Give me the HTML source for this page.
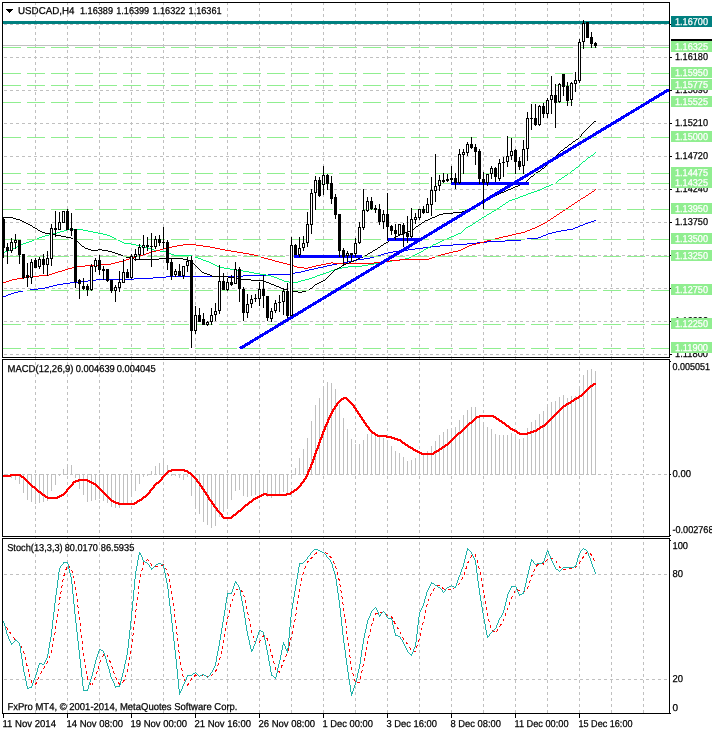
<!DOCTYPE html>
<html><head><meta charset="utf-8"><title>USDCAD,H4</title>
<style>html,body{margin:0;padding:0;background:#fff;overflow:hidden}svg{display:block}text{font-family:"Liberation Sans",Arial,sans-serif;fill:#000;stroke:#000;stroke-width:.25px;white-space:pre;text-rendering:geometricPrecision}.t{font-size:10px}.a{font-size:10px}.w{fill:#fff;stroke:#fff}</style></head><body>
<svg width="712" height="732" viewBox="0 0 712 732">
<rect x="0" y="0" width="712" height="732" fill="#fff"/>
<g shape-rendering="crispEdges" stroke="#c0c0c0" stroke-width="1" stroke-dasharray="3 3" fill="none">
<line x1="35.5" y1="2" x2="35.5" y2="713"/>
<line x1="67.5" y1="2" x2="67.5" y2="713"/>
<line x1="99.5" y1="2" x2="99.5" y2="713"/>
<line x1="131.5" y1="2" x2="131.5" y2="713"/>
<line x1="163.5" y1="2" x2="163.5" y2="713"/>
<line x1="195.5" y1="2" x2="195.5" y2="713"/>
<line x1="227.5" y1="2" x2="227.5" y2="713"/>
<line x1="259.5" y1="2" x2="259.5" y2="713"/>
<line x1="291.5" y1="2" x2="291.5" y2="713"/>
<line x1="323.5" y1="2" x2="323.5" y2="713"/>
<line x1="355.5" y1="2" x2="355.5" y2="713"/>
<line x1="387.5" y1="2" x2="387.5" y2="713"/>
<line x1="419.5" y1="2" x2="419.5" y2="713"/>
<line x1="451.5" y1="2" x2="451.5" y2="713"/>
<line x1="483.5" y1="2" x2="483.5" y2="713"/>
<line x1="515.5" y1="2" x2="515.5" y2="713"/>
<line x1="547.5" y1="2" x2="547.5" y2="713"/>
<line x1="579.5" y1="2" x2="579.5" y2="713"/>
<line x1="611.5" y1="2" x2="611.5" y2="713"/>
<line x1="643.5" y1="2" x2="643.5" y2="713"/>
<line x1="4" y1="24.5" x2="669" y2="24.5"/>
<line x1="4" y1="57.5" x2="669" y2="57.5"/>
<line x1="4" y1="90.5" x2="669" y2="90.5"/>
<line x1="4" y1="123.5" x2="669" y2="123.5"/>
<line x1="4" y1="156.5" x2="669" y2="156.5"/>
<line x1="4" y1="189.5" x2="669" y2="189.5"/>
<line x1="4" y1="222.5" x2="669" y2="222.5"/>
<line x1="4" y1="255.5" x2="669" y2="255.5"/>
<line x1="4" y1="288.5" x2="669" y2="288.5"/>
<line x1="4" y1="321.5" x2="669" y2="321.5"/>
<line x1="4" y1="354.5" x2="669" y2="354.5"/>
<line x1="4" y1="474.5" x2="669" y2="474.5"/>
<line x1="4" y1="574.5" x2="669" y2="574.5"/>
<line x1="4" y1="679.5" x2="669" y2="679.5"/>
</g>
<g shape-rendering="crispEdges">
<rect x="3" y="45" width="666" height="1" fill="#c0c0c0"/>
<rect x="3" y="21" width="666" height="3" fill="#008080"/>
</g>
<g shape-rendering="crispEdges">
<path d="M3 296h3v1h-3zM6 295h2v1h-2zM8 294h3v1h-3zM11 293h3v1h-3zM14 292h4v1h-4zM18 291h5v1h-5zM23 290h7v1h-7zM30 289h8v1h-8zM38 288h7v1h-7zM45 287h4v1h-4zM49 286h4v1h-4zM53 285h4v1h-4zM57 284h6v1h-6zM63 283h7v1h-7zM70 282h10v1h-10zM80 281h8v1h-8zM88 280h8v1h-8zM96 279h38v1h-38zM134 278h19v1h-19zM153 277h13v1h-13zM166 276h77v1h-77zM243 275h25v1h-25zM268 274h22v1h-22zM290 273h5v1h-5zM295 272h6v1h-6zM301 271h4v1h-4zM305 270h4v1h-4zM309 269h5v1h-5zM314 268h4v1h-4zM318 267h5v1h-5zM323 266h4v1h-4zM327 265h5v1h-5zM332 264h5v1h-5zM337 263h6v1h-6zM343 262h5v1h-5zM348 261h5v1h-5zM353 260h4v1h-4zM357 259h7v1h-7zM364 258h6v1h-6zM370 257h4v1h-4zM374 256h4v1h-4zM378 255h3v1h-3zM381 254h3v1h-3zM384 253h4v1h-4zM388 252h5v1h-5zM393 251h8v1h-8zM401 250h7v1h-7zM408 249h7v1h-7zM415 248h8v1h-8zM423 247h8v1h-8zM431 246h9v1h-9zM440 245h13v1h-13zM453 244h14v1h-14zM467 243h10v1h-10zM477 242h10v1h-10zM487 241h18v1h-18zM505 240h16v1h-16zM521 239h6v1h-6zM527 238h11v1h-11zM538 237h3v1h-3zM541 236h2v1h-2zM543 235h3v1h-3zM546 234h2v1h-2zM548 233h4v1h-4zM552 232h4v1h-4zM556 231h5v1h-5zM561 230h6v1h-6zM567 229h6v1h-6zM573 228h2v1h-2zM575 227h3v1h-3zM578 226h2v1h-2zM580 225h3v1h-3zM583 224h2v1h-2zM585 223h3v1h-3zM588 222h3v1h-3zM591 221h3v1h-3zM594 220h2v1h-2z" fill="#0000ff"/>
<path d="M3 252h2v1h-2zM5 251h3v1h-3zM8 250h2v1h-2zM10 249h2v1h-2zM12 248h3v1h-3zM15 247h2v1h-2zM17 246h1v1h-1zM18 245h3v1h-3zM21 244h2v1h-2zM23 243h3v1h-3zM26 242h3v1h-3zM29 241h3v1h-3zM32 240h2v1h-2zM34 239h3v1h-3zM37 238h2v1h-2zM39 237h3v1h-3zM42 236h3v1h-3zM45 235h4v1h-4zM49 234h4v1h-4zM53 233h4v1h-4zM57 232h3v1h-3zM60 231h4v1h-4zM64 230h3v1h-3zM67 229h16v1h-16zM83 230h5v1h-5zM88 231h5v1h-5zM93 232h5v1h-5zM98 233h5v1h-5zM103 234h4v1h-4zM107 235h3v1h-3zM110 236h2v1h-2zM112 237h2v1h-2zM114 238h2v1h-2zM116 239h2v1h-2zM118 240h2v1h-2zM120 241h2v1h-2zM122 242h2v1h-2zM124 243h7v1h-7zM131 244h5v1h-5zM136 245h5v1h-5zM141 246h4v1h-4zM145 247h3v1h-3zM148 248h3v1h-3zM151 249h3v1h-3zM154 250h6v1h-6zM160 251h7v1h-7zM167 252h2v1h-2zM169 253h2v1h-2zM171 254h3v1h-3zM174 255h18v1h-18zM192 256h3v1h-3zM195 257h3v1h-3zM198 258h3v1h-3zM201 259h2v1h-2zM203 260h3v1h-3zM206 261h3v1h-3zM209 262h2v1h-2zM211 263h2v1h-2zM213 264h2v1h-2zM215 265h2v1h-2zM217 266h3v1h-3zM220 267h4v1h-4zM224 268h6v1h-6zM230 269h7v1h-7zM237 270h6v1h-6zM243 271h6v1h-6zM249 272h5v1h-5zM254 273h6v1h-6zM260 274h6v1h-6zM266 275h5v1h-5zM271 276h3v1h-3zM274 277h3v1h-3zM277 278h2v1h-2zM279 279h3v1h-3zM282 280h2v1h-2zM284 281h5v1h-5zM289 282h9v1h-9zM298 281h3v1h-3zM301 280h4v1h-4zM305 279h4v1h-4zM309 278h3v1h-3zM312 277h3v1h-3zM315 276h2v1h-2zM317 275h3v1h-3zM320 274h3v1h-3zM323 273h3v1h-3zM326 272h3v1h-3zM329 271h2v1h-2zM331 270h3v1h-3zM334 269h4v1h-4zM338 268h4v1h-4zM342 267h6v1h-6zM348 266h14v1h-14zM362 265h6v1h-6zM368 264h6v1h-6zM374 263h5v1h-5zM379 262h5v1h-5zM384 261h8v1h-8zM392 260h7v1h-7zM399 259h6v1h-6zM405 258h4v1h-4zM409 257h2v1h-2zM411 256h2v1h-2zM413 255h2v1h-2zM415 254h2v1h-2zM417 253h2v1h-2zM419 252h2v1h-2zM421 251h2v1h-2zM423 250h1v1h-1zM424 249h2v1h-2zM426 248h2v1h-2zM428 247h2v1h-2zM430 246h2v1h-2zM432 245h1v1h-1zM433 244h3v1h-3zM436 243h2v1h-2zM438 242h2v1h-2zM440 241h2v1h-2zM442 240h2v1h-2zM444 239h3v1h-3zM447 238h2v1h-2zM449 237h2v1h-2zM451 236h3v1h-3zM454 235h2v1h-2zM456 234h2v1h-2zM458 233h3v1h-3zM461 232h1v1h-1zM462 231h1v1h-1zM463 230h1v1h-1zM464 229h1v1h-1zM465 228h1v1h-1zM466 227h2v1h-2zM468 226h2v1h-2zM470 225h2v1h-2zM472 224h1v1h-1zM473 223h2v1h-2zM475 222h1v1h-1zM476 221h2v1h-2zM478 220h1v1h-1zM479 219h2v1h-2zM481 218h1v1h-1zM482 217h2v1h-2zM484 216h2v1h-2zM486 215h1v1h-1zM487 214h2v1h-2zM489 213h2v1h-2zM491 212h1v1h-1zM492 211h2v1h-2zM494 210h2v1h-2zM496 209h1v1h-1zM497 208h2v1h-2zM499 207h1v1h-1zM500 206h2v1h-2zM502 205h1v1h-1zM503 204h2v1h-2zM505 203h1v1h-1zM506 202h2v1h-2zM508 201h1v1h-1zM509 200h3v1h-3zM512 199h3v1h-3zM515 198h3v1h-3zM518 197h2v1h-2zM520 196h3v1h-3zM523 195h3v1h-3zM526 194h2v1h-2zM528 193h3v1h-3zM531 192h3v1h-3zM534 191h3v1h-3zM537 190h3v1h-3zM540 189h2v1h-2zM542 188h2v1h-2zM544 187h2v1h-2zM546 186h3v1h-3zM549 185h2v1h-2zM551 184h2v1h-2zM553 183h3v1h-3zM556 182h1v1h-1zM557 181h1v1h-1zM558 180h1v1h-1zM559 179h2v1h-2zM561 178h1v1h-1zM562 177h2v1h-2zM564 176h1v1h-1zM565 175h2v1h-2zM567 174h1v1h-1zM568 173h2v1h-2zM570 172h1v1h-1zM571 171h1v1h-1zM572 170h2v1h-2zM574 169h1v1h-1zM575 168h1v1h-1zM576 167h2v1h-2zM578 166h1v1h-1zM579 165h1v1h-1zM580 164h1v1h-1zM581 163h1v1h-1zM582 162h1v1h-1zM583 161h2v1h-2zM585 160h1v1h-1zM586 159h1v1h-1zM587 158h1v1h-1zM588 157h2v1h-2zM590 156h1v1h-1zM591 155h2v1h-2zM593 154h1v1h-1zM594 153h1v1h-1zM595 152h1v1h-1z" fill="#00f578"/>
<path d="M3 282h3v1h-3zM6 281h3v1h-3zM9 280h3v1h-3zM12 279h5v1h-5zM17 278h6v1h-6zM23 277h6v1h-6zM29 276h10v1h-10zM39 275h10v1h-10zM49 274h3v1h-3zM52 273h3v1h-3zM55 272h3v1h-3zM58 271h4v1h-4zM62 270h3v1h-3zM65 269h3v1h-3zM68 268h4v1h-4zM72 267h5v1h-5zM77 266h8v1h-8zM85 265h14v1h-14zM99 264h12v1h-12zM111 263h4v1h-4zM115 262h4v1h-4zM119 261h4v1h-4zM123 260h3v1h-3zM126 259h3v1h-3zM129 258h4v1h-4zM133 257h3v1h-3zM136 256h3v1h-3zM139 255h4v1h-4zM143 254h3v1h-3zM146 253h3v1h-3zM149 252h3v1h-3zM152 251h4v1h-4zM156 250h4v1h-4zM160 249h3v1h-3zM163 248h4v1h-4zM167 247h5v1h-5zM172 246h5v1h-5zM177 245h6v1h-6zM183 244h13v1h-13zM196 245h7v1h-7zM203 246h7v1h-7zM210 247h5v1h-5zM215 248h5v1h-5zM220 249h5v1h-5zM225 250h6v1h-6zM231 251h6v1h-6zM237 252h6v1h-6zM243 253h6v1h-6zM249 254h5v1h-5zM254 255h4v1h-4zM258 256h3v1h-3zM261 257h3v1h-3zM264 258h4v1h-4zM268 259h4v1h-4zM272 260h3v1h-3zM275 261h4v1h-4zM279 262h4v1h-4zM283 263h4v1h-4zM287 264h3v1h-3zM290 265h4v1h-4zM294 266h3v1h-3zM297 267h7v1h-7zM304 268h4v1h-4zM308 267h4v1h-4zM312 266h4v1h-4zM316 265h5v1h-5zM321 264h5v1h-5zM326 263h5v1h-5zM331 262h2v1h-2zM333 263h41v1h-41zM374 262h8v1h-8zM382 261h8v1h-8zM390 260h10v1h-10zM400 259h29v1h-29zM429 258h3v1h-3zM432 257h3v1h-3zM435 256h3v1h-3zM438 255h3v1h-3zM441 254h4v1h-4zM445 253h4v1h-4zM449 252h4v1h-4zM453 251h5v1h-5zM458 250h3v1h-3zM461 249h2v1h-2zM463 248h2v1h-2zM465 247h2v1h-2zM467 246h2v1h-2zM469 245h3v1h-3zM472 244h4v1h-4zM476 243h4v1h-4zM480 242h4v1h-4zM484 241h3v1h-3zM487 240h4v1h-4zM491 239h4v1h-4zM495 238h4v1h-4zM499 237h4v1h-4zM503 236h5v1h-5zM508 235h4v1h-4zM512 234h4v1h-4zM516 233h5v1h-5zM521 232h4v1h-4zM525 231h2v1h-2zM527 230h3v1h-3zM530 229h2v1h-2zM532 228h3v1h-3zM535 227h2v1h-2zM537 226h2v1h-2zM539 225h2v1h-2zM541 224h2v1h-2zM543 223h2v1h-2zM545 222h2v1h-2zM547 221h1v1h-1zM548 220h2v1h-2zM550 219h1v1h-1zM551 218h2v1h-2zM553 217h1v1h-1zM554 216h2v1h-2zM556 215h1v1h-1zM557 214h2v1h-2zM559 213h1v1h-1zM560 212h2v1h-2zM562 211h1v1h-1zM563 210h2v1h-2zM565 209h1v1h-1zM566 208h2v1h-2zM568 207h1v1h-1zM569 206h2v1h-2zM571 205h1v1h-1zM572 204h2v1h-2zM574 203h1v1h-1zM575 202h2v1h-2zM577 201h1v1h-1zM578 200h2v1h-2zM580 199h1v1h-1zM581 198h2v1h-2zM583 197h2v1h-2zM585 196h1v1h-1zM586 195h2v1h-2zM588 194h1v1h-1zM589 193h2v1h-2zM591 192h1v1h-1zM592 191h2v1h-2zM594 190h1v1h-1zM595 189h1v1h-1z" fill="#ff0000"/>
<path d="M3 217h10v1h-10zM13 218h3v1h-3zM16 219h4v1h-4zM20 220h2v1h-2zM22 221h2v1h-2zM24 222h2v1h-2zM26 223h2v1h-2zM28 224h2v1h-2zM30 225h2v1h-2zM32 226h1v1h-1zM33 227h2v1h-2zM35 228h2v1h-2zM37 229h1v1h-1zM38 230h2v1h-2zM40 231h2v1h-2zM42 232h3v1h-3zM45 233h5v1h-5zM50 234h6v1h-6zM56 235h5v1h-5zM61 236h5v1h-5zM66 237h5v1h-5zM71 238h2v1h-2zM73 239h2v1h-2zM75 240h2v1h-2zM77 241h1v1h-1zM78 242h1v1h-1zM79 243h1v1h-1zM80 244h1v1h-1zM81 245h1v1h-1zM82 246h2v1h-2zM84 247h1v1h-1zM85 248h3v1h-3zM88 249h3v1h-3zM91 250h7v1h-7zM98 249h4v1h-4zM102 250h6v1h-6zM108 251h4v1h-4zM112 252h3v1h-3zM115 253h3v1h-3zM118 254h3v1h-3zM121 255h2v1h-2zM123 256h3v1h-3zM126 257h4v1h-4zM130 258h4v1h-4zM134 259h25v1h-25zM159 258h24v1h-24zM183 259h5v1h-5zM188 260h2v1h-2zM190 261h2v1h-2zM192 262h1v1h-1zM193 263h1v1h-1zM194 264h1v1h-1zM195 265h1v1h-1zM196 266h1v1h-1zM197 267h1v1h-1zM198 268h1v1h-1zM199 269h1v1h-1zM200 270h1v1h-1zM201 271h1v1h-1zM202 272h2v1h-2zM204 273h3v1h-3zM207 274h3v1h-3zM210 275h2v1h-2zM212 276h16v1h-16zM228 277h6v1h-6zM234 278h7v1h-7zM241 279h10v1h-10zM251 280h12v1h-12zM263 281h3v1h-3zM266 282h3v1h-3zM269 283h2v1h-2zM271 284h3v1h-3zM274 285h2v1h-2zM276 286h3v1h-3zM279 287h2v1h-2zM281 288h3v1h-3zM284 289h4v1h-4zM288 290h4v1h-4zM292 291h6v1h-6zM298 292h4v1h-4zM302 291h4v1h-4zM306 290h3v1h-3zM309 289h1v1h-1zM310 288h2v1h-2zM312 287h1v1h-1zM313 286h1v1h-1zM314 285h1v1h-1zM315 284h2v1h-2zM317 283h2v1h-2zM319 282h2v1h-2zM321 281h2v1h-2zM323 280h2v1h-2zM325 279h1v1h-1zM326 278h1v1h-1zM327 277h1v1h-1zM328 276h1v1h-1zM329 275h1v1h-1zM330 274h1v1h-1zM331 273h1v1h-1zM332 272h1v1h-1zM333 271h1v1h-1zM334 270h1v1h-1zM335 269h2v1h-2zM337 268h2v1h-2zM339 267h2v1h-2zM341 266h1v1h-1zM342 265h2v1h-2zM344 264h2v1h-2zM346 263h3v1h-3zM349 262h2v1h-2zM351 261h3v1h-3zM354 260h2v1h-2zM356 259h2v1h-2zM358 258h2v1h-2zM360 257h3v1h-3zM363 256h2v1h-2zM365 255h2v1h-2zM367 254h1v1h-1zM368 253h2v1h-2zM370 252h2v1h-2zM372 251h1v1h-1zM373 250h2v1h-2zM375 249h2v1h-2zM377 248h1v1h-1zM378 247h2v1h-2zM380 246h1v1h-1zM381 245h2v1h-2zM383 244h1v1h-1zM384 243h2v1h-2zM386 242h2v1h-2zM388 241h1v1h-1zM389 240h2v1h-2zM391 239h2v1h-2zM393 238h1v1h-1zM394 237h2v1h-2zM396 236h2v1h-2zM398 235h2v1h-2zM400 234h3v1h-3zM403 233h2v1h-2zM405 232h2v1h-2zM407 231h3v1h-3zM410 230h2v1h-2zM412 229h2v1h-2zM414 228h1v1h-1zM415 227h1v1h-1zM416 226h2v1h-2zM418 225h1v1h-1zM419 224h2v1h-2zM421 223h1v1h-1zM422 222h2v1h-2zM424 221h1v1h-1zM425 220h3v1h-3zM428 219h2v1h-2zM430 218h2v1h-2zM432 217h3v1h-3zM435 216h2v1h-2zM437 215h2v1h-2zM439 214h4v1h-4zM443 213h10v1h-10zM453 212h9v1h-9zM462 211h3v1h-3zM465 210h2v1h-2zM467 209h2v1h-2zM469 208h2v1h-2zM471 207h2v1h-2zM473 206h2v1h-2zM475 205h2v1h-2zM477 204h2v1h-2zM479 203h2v1h-2zM481 202h2v1h-2zM483 201h1v1h-1zM484 200h2v1h-2zM486 199h2v1h-2zM488 198h2v1h-2zM490 197h2v1h-2zM492 196h2v1h-2zM494 195h3v1h-3zM497 194h2v1h-2zM499 193h2v1h-2zM501 192h3v1h-3zM504 191h2v1h-2zM506 190h2v1h-2zM508 189h3v1h-3zM511 188h2v1h-2zM513 187h2v1h-2zM515 186h3v1h-3zM518 185h2v1h-2zM520 184h2v1h-2zM522 183h2v1h-2zM524 182h2v1h-2zM526 181h1v1h-1zM527 180h1v1h-1zM528 179h1v1h-1zM529 178h1v1h-1zM530 177h1v1h-1zM531 176h2v1h-2zM533 175h1v1h-1zM534 174h1v1h-1zM535 173h1v1h-1zM536 172h2v1h-2zM538 171h2v1h-2zM540 170h1v1h-1zM541 169h1v1h-1zM542 168h2v1h-2zM544 167h1v1h-1zM545 166h1v1h-1zM546 165h1v1h-1zM547 164h1v1h-1zM548 163h1v1h-1zM549 162h1v1h-1zM550 161h1v1h-1zM551 160h1v1h-1zM552 159h1v1h-1zM553 158h1v1h-1zM554 157h1v1h-1zM555 156h1v1h-1zM556 155h1v1h-1zM557 154h1v1h-1zM558 153h1v1h-1zM559 152h1v1h-1zM560 151h1v1h-1zM561 150h2v1h-2zM563 149h1v1h-1zM564 148h1v1h-1zM565 147h2v1h-2zM567 146h1v1h-1zM568 145h1v1h-1zM569 144h2v1h-2zM571 143h1v1h-1zM572 142h1v1h-1zM573 141h2v1h-2zM575 140h1v1h-1zM576 139h2v1h-2zM578 138h1v1h-1zM579 137h1v1h-1zM580 136h1v1h-1zM581 134h1v2h-1zM582 133h1v1h-1zM583 132h1v1h-1zM584 131h1v1h-1zM585 130h1v1h-1zM586 129h1v1h-1zM587 128h1v1h-1zM588 127h1v1h-1zM589 126h1v1h-1zM590 125h1v1h-1zM591 124h1v1h-1zM592 123h1v1h-1zM593 122h1v1h-1zM594 121h2v1h-2z" fill="#000000"/>
<rect x="3" y="47" width="666" height="1" fill="#fff"/>
<rect x="3" y="73" width="666" height="1" fill="#fff"/>
<rect x="3" y="85" width="666" height="1" fill="#fff"/>
<rect x="3" y="102" width="666" height="1" fill="#fff"/>
<rect x="3" y="137" width="666" height="1" fill="#fff"/>
<rect x="3" y="173" width="666" height="1" fill="#fff"/>
<rect x="3" y="183" width="666" height="1" fill="#fff"/>
<rect x="3" y="209" width="666" height="1" fill="#fff"/>
<rect x="3" y="239" width="666" height="1" fill="#fff"/>
<rect x="3" y="256" width="666" height="1" fill="#fff"/>
<rect x="3" y="290" width="666" height="1" fill="#fff"/>
<rect x="3" y="324" width="666" height="1" fill="#fff"/>
<rect x="3" y="348" width="666" height="1" fill="#fff"/>
<g stroke="#90ee90" stroke-width="1" stroke-dasharray="18 6">
<line x1="3" y1="47.5" x2="669" y2="47.5"/>
<line x1="3" y1="73.5" x2="669" y2="73.5"/>
<line x1="3" y1="85.5" x2="669" y2="85.5"/>
<line x1="3" y1="102.5" x2="669" y2="102.5"/>
<line x1="3" y1="137.5" x2="669" y2="137.5"/>
<line x1="3" y1="173.5" x2="669" y2="173.5"/>
<line x1="3" y1="183.5" x2="669" y2="183.5"/>
<line x1="3" y1="209.5" x2="669" y2="209.5"/>
<line x1="3" y1="239.5" x2="669" y2="239.5"/>
<line x1="3" y1="256.5" x2="669" y2="256.5"/>
<line x1="3" y1="290.5" x2="669" y2="290.5"/>
<line x1="3" y1="324.5" x2="669" y2="324.5"/>
<line x1="3" y1="348.5" x2="669" y2="348.5"/>
</g>
<line x1="240" y1="348.5" x2="669" y2="89.5" stroke="#0000ff" stroke-width="3"/>
<rect x="294" y="255" width="68" height="3" fill="#0000ff"/>
<rect x="387" y="238" width="32" height="3" fill="#0000ff"/>
<rect x="451" y="182" width="78" height="3" fill="#0000ff"/>
</g>
<g shape-rendering="crispEdges" fill="#000">
<rect x="3" y="218" width="1" height="40"/>
<rect x="2" y="219" width="3" height="29"/>
<rect x="7" y="243" width="1" height="21"/>
<rect x="6" y="247" width="3" height="4"/>
<rect x="11" y="238" width="1" height="15"/>
<rect x="10" y="242" width="3" height="9"/>
<rect x="11" y="243" width="1" height="7" fill="#fff"/>
<rect x="15" y="234" width="1" height="15"/>
<rect x="14" y="240" width="3" height="3"/>
<rect x="15" y="241" width="1" height="1" fill="#fff"/>
<rect x="19" y="240" width="1" height="24"/>
<rect x="18" y="240" width="3" height="15"/>
<rect x="23" y="254" width="1" height="25"/>
<rect x="22" y="254" width="3" height="24"/>
<rect x="27" y="263" width="1" height="24"/>
<rect x="26" y="275" width="3" height="3"/>
<rect x="31" y="259" width="1" height="25"/>
<rect x="30" y="262" width="3" height="16"/>
<rect x="31" y="263" width="1" height="14" fill="#fff"/>
<rect x="35" y="258" width="1" height="10"/>
<rect x="34" y="260" width="3" height="8"/>
<rect x="39" y="257" width="1" height="12"/>
<rect x="38" y="259" width="3" height="8"/>
<rect x="39" y="260" width="1" height="6" fill="#fff"/>
<rect x="43" y="254" width="1" height="20"/>
<rect x="42" y="259" width="3" height="6"/>
<rect x="47" y="251" width="1" height="25"/>
<rect x="46" y="258" width="3" height="7"/>
<rect x="47" y="259" width="1" height="5" fill="#fff"/>
<rect x="51" y="224" width="1" height="42"/>
<rect x="50" y="228" width="3" height="31"/>
<rect x="51" y="229" width="1" height="29" fill="#fff"/>
<rect x="55" y="211" width="1" height="26"/>
<rect x="54" y="228" width="3" height="2"/>
<rect x="59" y="212" width="1" height="18"/>
<rect x="58" y="222" width="3" height="8"/>
<rect x="59" y="223" width="1" height="6" fill="#fff"/>
<rect x="63" y="211" width="1" height="12"/>
<rect x="62" y="211" width="3" height="12"/>
<rect x="63" y="212" width="1" height="10" fill="#fff"/>
<rect x="67" y="209" width="1" height="21"/>
<rect x="66" y="211" width="3" height="19"/>
<rect x="71" y="213" width="1" height="23"/>
<rect x="70" y="228" width="3" height="3"/>
<rect x="75" y="229" width="1" height="59"/>
<rect x="74" y="229" width="3" height="53"/>
<rect x="79" y="279" width="1" height="20"/>
<rect x="78" y="280" width="3" height="4"/>
<rect x="83" y="278" width="1" height="12"/>
<rect x="82" y="286" width="3" height="3"/>
<rect x="87" y="284" width="1" height="12"/>
<rect x="86" y="286" width="3" height="4"/>
<rect x="91" y="264" width="1" height="27"/>
<rect x="90" y="266" width="3" height="24"/>
<rect x="91" y="267" width="1" height="22" fill="#fff"/>
<rect x="95" y="258" width="1" height="14"/>
<rect x="94" y="260" width="3" height="7"/>
<rect x="95" y="261" width="1" height="5" fill="#fff"/>
<rect x="99" y="255" width="1" height="20"/>
<rect x="98" y="260" width="3" height="10"/>
<rect x="103" y="266" width="1" height="14"/>
<rect x="102" y="269" width="3" height="2"/>
<rect x="107" y="269" width="1" height="13"/>
<rect x="106" y="269" width="3" height="12"/>
<rect x="111" y="280" width="1" height="13"/>
<rect x="110" y="280" width="3" height="11"/>
<rect x="115" y="285" width="1" height="17"/>
<rect x="114" y="287" width="3" height="4"/>
<rect x="115" y="288" width="1" height="2" fill="#fff"/>
<rect x="119" y="271" width="1" height="21"/>
<rect x="118" y="282" width="3" height="6"/>
<rect x="119" y="283" width="1" height="4" fill="#fff"/>
<rect x="123" y="259" width="1" height="24"/>
<rect x="122" y="272" width="3" height="11"/>
<rect x="123" y="273" width="1" height="9" fill="#fff"/>
<rect x="127" y="269" width="1" height="9"/>
<rect x="126" y="272" width="3" height="6"/>
<rect x="131" y="254" width="1" height="25"/>
<rect x="130" y="256" width="3" height="22"/>
<rect x="131" y="257" width="1" height="20" fill="#fff"/>
<rect x="135" y="249" width="1" height="12"/>
<rect x="134" y="254" width="3" height="3"/>
<rect x="135" y="255" width="1" height="1" fill="#fff"/>
<rect x="139" y="244" width="1" height="16"/>
<rect x="138" y="247" width="3" height="8"/>
<rect x="139" y="248" width="1" height="6" fill="#fff"/>
<rect x="143" y="235" width="1" height="20"/>
<rect x="142" y="245" width="3" height="3"/>
<rect x="143" y="246" width="1" height="1" fill="#fff"/>
<rect x="147" y="237" width="1" height="14"/>
<rect x="146" y="245" width="3" height="2"/>
<rect x="151" y="233" width="1" height="34"/>
<rect x="150" y="246" width="3" height="1"/>
<rect x="155" y="236" width="1" height="13"/>
<rect x="154" y="239" width="3" height="8"/>
<rect x="155" y="240" width="1" height="6" fill="#fff"/>
<rect x="159" y="235" width="1" height="11"/>
<rect x="158" y="239" width="3" height="4"/>
<rect x="163" y="227" width="1" height="22"/>
<rect x="162" y="242" width="3" height="1"/>
<rect x="167" y="240" width="1" height="30"/>
<rect x="166" y="242" width="3" height="21"/>
<rect x="171" y="258" width="1" height="22"/>
<rect x="170" y="262" width="3" height="14"/>
<rect x="175" y="269" width="1" height="8"/>
<rect x="174" y="271" width="3" height="4"/>
<rect x="175" y="272" width="1" height="2" fill="#fff"/>
<rect x="179" y="264" width="1" height="12"/>
<rect x="178" y="271" width="3" height="5"/>
<rect x="183" y="266" width="1" height="13"/>
<rect x="182" y="266" width="3" height="10"/>
<rect x="183" y="267" width="1" height="8" fill="#fff"/>
<rect x="187" y="257" width="1" height="15"/>
<rect x="186" y="261" width="3" height="5"/>
<rect x="187" y="262" width="1" height="3" fill="#fff"/>
<rect x="191" y="256" width="1" height="92"/>
<rect x="190" y="260" width="3" height="71"/>
<rect x="195" y="306" width="1" height="28"/>
<rect x="194" y="315" width="3" height="16"/>
<rect x="195" y="316" width="1" height="14" fill="#fff"/>
<rect x="199" y="308" width="1" height="14"/>
<rect x="198" y="315" width="3" height="7"/>
<rect x="203" y="313" width="1" height="12"/>
<rect x="202" y="319" width="3" height="6"/>
<rect x="207" y="321" width="1" height="5"/>
<rect x="206" y="322" width="3" height="3"/>
<rect x="207" y="323" width="1" height="1" fill="#fff"/>
<rect x="211" y="308" width="1" height="17"/>
<rect x="210" y="315" width="3" height="7"/>
<rect x="211" y="316" width="1" height="5" fill="#fff"/>
<rect x="215" y="303" width="1" height="18"/>
<rect x="214" y="311" width="3" height="4"/>
<rect x="215" y="312" width="1" height="2" fill="#fff"/>
<rect x="219" y="265" width="1" height="49"/>
<rect x="218" y="281" width="3" height="30"/>
<rect x="219" y="282" width="1" height="28" fill="#fff"/>
<rect x="223" y="273" width="1" height="17"/>
<rect x="222" y="281" width="3" height="9"/>
<rect x="227" y="278" width="1" height="13"/>
<rect x="226" y="282" width="3" height="8"/>
<rect x="227" y="283" width="1" height="6" fill="#fff"/>
<rect x="231" y="275" width="1" height="11"/>
<rect x="230" y="282" width="3" height="3"/>
<rect x="235" y="262" width="1" height="22"/>
<rect x="234" y="269" width="3" height="15"/>
<rect x="235" y="270" width="1" height="13" fill="#fff"/>
<rect x="239" y="267" width="1" height="35"/>
<rect x="238" y="269" width="3" height="20"/>
<rect x="243" y="287" width="1" height="34"/>
<rect x="242" y="289" width="3" height="24"/>
<rect x="247" y="294" width="1" height="24"/>
<rect x="246" y="304" width="3" height="9"/>
<rect x="247" y="305" width="1" height="7" fill="#fff"/>
<rect x="251" y="295" width="1" height="13"/>
<rect x="250" y="299" width="3" height="5"/>
<rect x="251" y="300" width="1" height="3" fill="#fff"/>
<rect x="255" y="294" width="1" height="8"/>
<rect x="254" y="298" width="3" height="1"/>
<rect x="259" y="282" width="1" height="24"/>
<rect x="258" y="289" width="3" height="10"/>
<rect x="259" y="290" width="1" height="8" fill="#fff"/>
<rect x="263" y="275" width="1" height="33"/>
<rect x="262" y="289" width="3" height="7"/>
<rect x="267" y="296" width="1" height="25"/>
<rect x="266" y="296" width="3" height="22"/>
<rect x="271" y="308" width="1" height="14"/>
<rect x="270" y="311" width="3" height="8"/>
<rect x="271" y="312" width="1" height="6" fill="#fff"/>
<rect x="275" y="300" width="1" height="13"/>
<rect x="274" y="303" width="3" height="8"/>
<rect x="275" y="304" width="1" height="6" fill="#fff"/>
<rect x="279" y="295" width="1" height="17"/>
<rect x="278" y="302" width="3" height="1"/>
<rect x="283" y="288" width="1" height="27"/>
<rect x="282" y="291" width="3" height="11"/>
<rect x="283" y="292" width="1" height="9" fill="#fff"/>
<rect x="287" y="283" width="1" height="35"/>
<rect x="286" y="291" width="3" height="25"/>
<rect x="291" y="237" width="1" height="79"/>
<rect x="290" y="245" width="3" height="71"/>
<rect x="291" y="246" width="1" height="69" fill="#fff"/>
<rect x="295" y="244" width="1" height="11"/>
<rect x="294" y="245" width="3" height="10"/>
<rect x="299" y="237" width="1" height="20"/>
<rect x="298" y="248" width="3" height="7"/>
<rect x="299" y="249" width="1" height="5" fill="#fff"/>
<rect x="303" y="236" width="1" height="15"/>
<rect x="302" y="243" width="3" height="5"/>
<rect x="303" y="244" width="1" height="3" fill="#fff"/>
<rect x="307" y="212" width="1" height="35"/>
<rect x="306" y="224" width="3" height="19"/>
<rect x="307" y="225" width="1" height="17" fill="#fff"/>
<rect x="311" y="189" width="1" height="45"/>
<rect x="310" y="193" width="3" height="32"/>
<rect x="311" y="194" width="1" height="30" fill="#fff"/>
<rect x="315" y="176" width="1" height="34"/>
<rect x="314" y="180" width="3" height="13"/>
<rect x="315" y="181" width="1" height="11" fill="#fff"/>
<rect x="319" y="177" width="1" height="20"/>
<rect x="318" y="180" width="3" height="16"/>
<rect x="323" y="166" width="1" height="29"/>
<rect x="322" y="175" width="3" height="10"/>
<rect x="323" y="176" width="1" height="8" fill="#fff"/>
<rect x="327" y="174" width="1" height="16"/>
<rect x="326" y="175" width="3" height="9"/>
<rect x="331" y="176" width="1" height="28"/>
<rect x="330" y="183" width="3" height="16"/>
<rect x="335" y="194" width="1" height="25"/>
<rect x="334" y="197" width="3" height="18"/>
<rect x="339" y="214" width="1" height="43"/>
<rect x="338" y="214" width="3" height="37"/>
<rect x="343" y="248" width="1" height="18"/>
<rect x="342" y="250" width="3" height="7"/>
<rect x="347" y="251" width="1" height="11"/>
<rect x="346" y="253" width="3" height="3"/>
<rect x="347" y="254" width="1" height="1" fill="#fff"/>
<rect x="351" y="253" width="1" height="9"/>
<rect x="350" y="253" width="3" height="2"/>
<rect x="355" y="238" width="1" height="19"/>
<rect x="354" y="243" width="3" height="11"/>
<rect x="355" y="244" width="1" height="9" fill="#fff"/>
<rect x="359" y="222" width="1" height="22"/>
<rect x="358" y="227" width="3" height="16"/>
<rect x="359" y="228" width="1" height="14" fill="#fff"/>
<rect x="363" y="189" width="1" height="41"/>
<rect x="362" y="210" width="3" height="18"/>
<rect x="363" y="211" width="1" height="16" fill="#fff"/>
<rect x="367" y="197" width="1" height="15"/>
<rect x="366" y="201" width="3" height="10"/>
<rect x="367" y="202" width="1" height="8" fill="#fff"/>
<rect x="371" y="197" width="1" height="13"/>
<rect x="370" y="201" width="3" height="8"/>
<rect x="375" y="205" width="1" height="8"/>
<rect x="374" y="208" width="3" height="2"/>
<rect x="379" y="204" width="1" height="21"/>
<rect x="378" y="209" width="3" height="13"/>
<rect x="383" y="210" width="1" height="19"/>
<rect x="382" y="214" width="3" height="8"/>
<rect x="383" y="215" width="1" height="6" fill="#fff"/>
<rect x="387" y="193" width="1" height="47"/>
<rect x="386" y="214" width="3" height="13"/>
<rect x="391" y="225" width="1" height="10"/>
<rect x="390" y="226" width="3" height="5"/>
<rect x="395" y="224" width="1" height="16"/>
<rect x="394" y="230" width="3" height="4"/>
<rect x="399" y="224" width="1" height="11"/>
<rect x="398" y="224" width="3" height="11"/>
<rect x="399" y="225" width="1" height="9" fill="#fff"/>
<rect x="403" y="223" width="1" height="24"/>
<rect x="402" y="225" width="3" height="9"/>
<rect x="407" y="216" width="1" height="27"/>
<rect x="406" y="233" width="3" height="4"/>
<rect x="411" y="208" width="1" height="30"/>
<rect x="410" y="219" width="3" height="18"/>
<rect x="411" y="220" width="1" height="16" fill="#fff"/>
<rect x="415" y="213" width="1" height="11"/>
<rect x="414" y="217" width="3" height="3"/>
<rect x="415" y="218" width="1" height="1" fill="#fff"/>
<rect x="419" y="209" width="1" height="11"/>
<rect x="418" y="209" width="3" height="9"/>
<rect x="419" y="210" width="1" height="7" fill="#fff"/>
<rect x="423" y="206" width="1" height="8"/>
<rect x="422" y="209" width="3" height="4"/>
<rect x="427" y="198" width="1" height="15"/>
<rect x="426" y="204" width="3" height="9"/>
<rect x="427" y="205" width="1" height="7" fill="#fff"/>
<rect x="431" y="177" width="1" height="39"/>
<rect x="430" y="190" width="3" height="15"/>
<rect x="431" y="191" width="1" height="13" fill="#fff"/>
<rect x="435" y="154" width="1" height="48"/>
<rect x="434" y="186" width="3" height="5"/>
<rect x="435" y="187" width="1" height="3" fill="#fff"/>
<rect x="439" y="175" width="1" height="16"/>
<rect x="438" y="180" width="3" height="6"/>
<rect x="439" y="181" width="1" height="4" fill="#fff"/>
<rect x="443" y="173" width="1" height="10"/>
<rect x="442" y="180" width="3" height="2"/>
<rect x="447" y="174" width="1" height="8"/>
<rect x="446" y="179" width="3" height="2"/>
<rect x="451" y="166" width="1" height="17"/>
<rect x="450" y="178" width="3" height="2"/>
<rect x="455" y="173" width="1" height="16"/>
<rect x="454" y="178" width="3" height="5"/>
<rect x="459" y="149" width="1" height="35"/>
<rect x="458" y="154" width="3" height="29"/>
<rect x="459" y="155" width="1" height="27" fill="#fff"/>
<rect x="463" y="149" width="1" height="25"/>
<rect x="462" y="152" width="3" height="3"/>
<rect x="463" y="153" width="1" height="1" fill="#fff"/>
<rect x="467" y="142" width="1" height="14"/>
<rect x="466" y="144" width="3" height="9"/>
<rect x="467" y="145" width="1" height="7" fill="#fff"/>
<rect x="471" y="137" width="1" height="12"/>
<rect x="470" y="144" width="3" height="4"/>
<rect x="475" y="144" width="1" height="21"/>
<rect x="474" y="147" width="3" height="5"/>
<rect x="479" y="149" width="1" height="35"/>
<rect x="478" y="151" width="3" height="28"/>
<rect x="483" y="172" width="1" height="37"/>
<rect x="482" y="179" width="3" height="4"/>
<rect x="487" y="174" width="1" height="12"/>
<rect x="486" y="174" width="3" height="9"/>
<rect x="487" y="175" width="1" height="7" fill="#fff"/>
<rect x="491" y="166" width="1" height="13"/>
<rect x="490" y="168" width="3" height="6"/>
<rect x="491" y="169" width="1" height="4" fill="#fff"/>
<rect x="495" y="167" width="1" height="15"/>
<rect x="494" y="168" width="3" height="9"/>
<rect x="499" y="159" width="1" height="22"/>
<rect x="498" y="163" width="3" height="16"/>
<rect x="499" y="164" width="1" height="14" fill="#fff"/>
<rect x="503" y="157" width="1" height="20"/>
<rect x="502" y="162" width="3" height="1"/>
<rect x="507" y="136" width="1" height="31"/>
<rect x="506" y="156" width="3" height="6"/>
<rect x="507" y="157" width="1" height="4" fill="#fff"/>
<rect x="511" y="138" width="1" height="22"/>
<rect x="510" y="151" width="3" height="5"/>
<rect x="511" y="152" width="1" height="3" fill="#fff"/>
<rect x="515" y="149" width="1" height="25"/>
<rect x="514" y="150" width="3" height="12"/>
<rect x="519" y="157" width="1" height="13"/>
<rect x="518" y="161" width="3" height="6"/>
<rect x="523" y="140" width="1" height="34"/>
<rect x="522" y="149" width="3" height="17"/>
<rect x="523" y="150" width="1" height="15" fill="#fff"/>
<rect x="527" y="112" width="1" height="49"/>
<rect x="526" y="118" width="3" height="31"/>
<rect x="527" y="119" width="1" height="29" fill="#fff"/>
<rect x="531" y="104" width="1" height="26"/>
<rect x="530" y="118" width="3" height="1"/>
<rect x="535" y="104" width="1" height="22"/>
<rect x="534" y="118" width="3" height="7"/>
<rect x="539" y="105" width="1" height="21"/>
<rect x="538" y="106" width="3" height="19"/>
<rect x="539" y="107" width="1" height="17" fill="#fff"/>
<rect x="543" y="103" width="1" height="15"/>
<rect x="542" y="106" width="3" height="8"/>
<rect x="547" y="98" width="1" height="20"/>
<rect x="546" y="100" width="3" height="14"/>
<rect x="547" y="101" width="1" height="12" fill="#fff"/>
<rect x="551" y="76" width="1" height="38"/>
<rect x="550" y="95" width="3" height="5"/>
<rect x="551" y="96" width="1" height="3" fill="#fff"/>
<rect x="555" y="84" width="1" height="44"/>
<rect x="554" y="95" width="3" height="8"/>
<rect x="559" y="83" width="1" height="20"/>
<rect x="558" y="84" width="3" height="18"/>
<rect x="559" y="85" width="1" height="16" fill="#fff"/>
<rect x="563" y="74" width="1" height="22"/>
<rect x="562" y="74" width="3" height="13"/>
<rect x="567" y="82" width="1" height="24"/>
<rect x="566" y="86" width="3" height="15"/>
<rect x="571" y="82" width="1" height="24"/>
<rect x="570" y="83" width="3" height="17"/>
<rect x="571" y="84" width="1" height="15" fill="#fff"/>
<rect x="575" y="72" width="1" height="20"/>
<rect x="574" y="80" width="3" height="4"/>
<rect x="575" y="81" width="1" height="2" fill="#fff"/>
<rect x="579" y="39" width="1" height="44"/>
<rect x="578" y="42" width="3" height="39"/>
<rect x="579" y="43" width="1" height="37" fill="#fff"/>
<rect x="583" y="20" width="1" height="29"/>
<rect x="582" y="23" width="3" height="19"/>
<rect x="583" y="24" width="1" height="17" fill="#fff"/>
<rect x="587" y="22" width="1" height="16"/>
<rect x="586" y="22" width="3" height="16"/>
<rect x="591" y="32" width="1" height="16"/>
<rect x="590" y="37" width="3" height="7"/>
<rect x="595" y="42" width="1" height="6"/>
<rect x="594" y="43" width="3" height="3"/>
</g>
<g shape-rendering="crispEdges" fill="#c0c0c0">
<rect x="7" y="474" width="1" height="2"/>
<rect x="11" y="474" width="1" height="4"/>
<rect x="15" y="474" width="1" height="6"/>
<rect x="19" y="474" width="1" height="10"/>
<rect x="23" y="474" width="1" height="19"/>
<rect x="27" y="474" width="1" height="26"/>
<rect x="31" y="474" width="1" height="28"/>
<rect x="35" y="474" width="1" height="30"/>
<rect x="39" y="474" width="1" height="29"/>
<rect x="43" y="474" width="1" height="28"/>
<rect x="47" y="474" width="1" height="27"/>
<rect x="51" y="474" width="1" height="17"/>
<rect x="55" y="474" width="1" height="11"/>
<rect x="59" y="474" width="1" height="2"/>
<rect x="63" y="469" width="1" height="6"/>
<rect x="67" y="464" width="1" height="11"/>
<rect x="71" y="465" width="1" height="10"/>
<rect x="75" y="474" width="1" height="4"/>
<rect x="79" y="474" width="1" height="15"/>
<rect x="83" y="474" width="1" height="21"/>
<rect x="87" y="474" width="1" height="28"/>
<rect x="91" y="474" width="1" height="27"/>
<rect x="95" y="474" width="1" height="26"/>
<rect x="99" y="474" width="1" height="25"/>
<rect x="103" y="474" width="1" height="27"/>
<rect x="107" y="474" width="1" height="29"/>
<rect x="111" y="474" width="1" height="33"/>
<rect x="115" y="474" width="1" height="34"/>
<rect x="119" y="474" width="1" height="34"/>
<rect x="123" y="474" width="1" height="31"/>
<rect x="127" y="474" width="1" height="30"/>
<rect x="131" y="474" width="1" height="23"/>
<rect x="135" y="474" width="1" height="17"/>
<rect x="139" y="474" width="1" height="10"/>
<rect x="143" y="474" width="1" height="3"/>
<rect x="147" y="474" width="1" height="2"/>
<rect x="151" y="471" width="1" height="4"/>
<rect x="155" y="466" width="1" height="9"/>
<rect x="159" y="463" width="1" height="12"/>
<rect x="163" y="459" width="1" height="16"/>
<rect x="167" y="465" width="1" height="10"/>
<rect x="171" y="474" width="1" height="2"/>
<rect x="175" y="474" width="1" height="2"/>
<rect x="179" y="474" width="1" height="4"/>
<rect x="183" y="474" width="1" height="6"/>
<rect x="187" y="474" width="1" height="3"/>
<rect x="191" y="474" width="1" height="22"/>
<rect x="195" y="474" width="1" height="34"/>
<rect x="199" y="474" width="1" height="40"/>
<rect x="203" y="474" width="1" height="48"/>
<rect x="207" y="474" width="1" height="51"/>
<rect x="211" y="474" width="1" height="54"/>
<rect x="215" y="474" width="1" height="52"/>
<rect x="219" y="474" width="1" height="43"/>
<rect x="223" y="474" width="1" height="38"/>
<rect x="227" y="474" width="1" height="32"/>
<rect x="231" y="474" width="1" height="26"/>
<rect x="235" y="474" width="1" height="17"/>
<rect x="239" y="474" width="1" height="16"/>
<rect x="243" y="474" width="1" height="22"/>
<rect x="247" y="474" width="1" height="23"/>
<rect x="251" y="474" width="1" height="22"/>
<rect x="255" y="474" width="1" height="21"/>
<rect x="259" y="474" width="1" height="20"/>
<rect x="263" y="474" width="1" height="19"/>
<rect x="267" y="474" width="1" height="23"/>
<rect x="271" y="474" width="1" height="24"/>
<rect x="275" y="474" width="1" height="22"/>
<rect x="279" y="474" width="1" height="21"/>
<rect x="283" y="474" width="1" height="18"/>
<rect x="287" y="474" width="1" height="21"/>
<rect x="291" y="474" width="1" height="2"/>
<rect x="295" y="468" width="1" height="7"/>
<rect x="299" y="458" width="1" height="17"/>
<rect x="303" y="449" width="1" height="26"/>
<rect x="307" y="438" width="1" height="37"/>
<rect x="311" y="421" width="1" height="54"/>
<rect x="315" y="405" width="1" height="70"/>
<rect x="319" y="398" width="1" height="77"/>
<rect x="323" y="386" width="1" height="89"/>
<rect x="327" y="382" width="1" height="93"/>
<rect x="331" y="383" width="1" height="92"/>
<rect x="335" y="389" width="1" height="86"/>
<rect x="339" y="404" width="1" height="71"/>
<rect x="343" y="418" width="1" height="57"/>
<rect x="347" y="429" width="1" height="46"/>
<rect x="351" y="439" width="1" height="36"/>
<rect x="355" y="444" width="1" height="31"/>
<rect x="359" y="444" width="1" height="31"/>
<rect x="363" y="440" width="1" height="35"/>
<rect x="367" y="434" width="1" height="41"/>
<rect x="371" y="433" width="1" height="42"/>
<rect x="375" y="435" width="1" height="40"/>
<rect x="379" y="437" width="1" height="38"/>
<rect x="383" y="438" width="1" height="37"/>
<rect x="387" y="440" width="1" height="35"/>
<rect x="391" y="446" width="1" height="29"/>
<rect x="395" y="451" width="1" height="24"/>
<rect x="399" y="453" width="1" height="22"/>
<rect x="403" y="457" width="1" height="18"/>
<rect x="407" y="461" width="1" height="14"/>
<rect x="411" y="460" width="1" height="15"/>
<rect x="415" y="458" width="1" height="17"/>
<rect x="419" y="455" width="1" height="20"/>
<rect x="423" y="453" width="1" height="22"/>
<rect x="427" y="451" width="1" height="24"/>
<rect x="431" y="446" width="1" height="29"/>
<rect x="435" y="441" width="1" height="34"/>
<rect x="439" y="435" width="1" height="40"/>
<rect x="443" y="432" width="1" height="43"/>
<rect x="447" y="429" width="1" height="46"/>
<rect x="451" y="428" width="1" height="47"/>
<rect x="455" y="427" width="1" height="48"/>
<rect x="459" y="420" width="1" height="55"/>
<rect x="463" y="415" width="1" height="60"/>
<rect x="467" y="410" width="1" height="65"/>
<rect x="471" y="407" width="1" height="68"/>
<rect x="475" y="407" width="1" height="68"/>
<rect x="479" y="416" width="1" height="59"/>
<rect x="483" y="423" width="1" height="52"/>
<rect x="487" y="427" width="1" height="48"/>
<rect x="491" y="429" width="1" height="46"/>
<rect x="495" y="434" width="1" height="41"/>
<rect x="499" y="435" width="1" height="40"/>
<rect x="503" y="435" width="1" height="40"/>
<rect x="507" y="435" width="1" height="40"/>
<rect x="511" y="433" width="1" height="42"/>
<rect x="515" y="435" width="1" height="40"/>
<rect x="519" y="439" width="1" height="36"/>
<rect x="523" y="438" width="1" height="37"/>
<rect x="527" y="428" width="1" height="47"/>
<rect x="531" y="422" width="1" height="53"/>
<rect x="535" y="420" width="1" height="55"/>
<rect x="539" y="414" width="1" height="61"/>
<rect x="543" y="411" width="1" height="64"/>
<rect x="547" y="405" width="1" height="70"/>
<rect x="551" y="402" width="1" height="73"/>
<rect x="555" y="401" width="1" height="74"/>
<rect x="559" y="397" width="1" height="78"/>
<rect x="563" y="395" width="1" height="80"/>
<rect x="567" y="398" width="1" height="77"/>
<rect x="571" y="396" width="1" height="79"/>
<rect x="575" y="396" width="1" height="79"/>
<rect x="579" y="387" width="1" height="88"/>
<rect x="583" y="375" width="1" height="100"/>
<rect x="587" y="370" width="1" height="105"/>
<rect x="591" y="369" width="1" height="106"/>
<rect x="595" y="371" width="1" height="104"/>
</g>
<g shape-rendering="crispEdges"><path d="M3 476h8v1h-8zM11 475h10v1h-10zM21 476h1v1h-1zM22 477h2v1h-2zM24 478h1v1h-1zM25 479h1v1h-1zM26 480h1v1h-1zM27 481h1v1h-1zM28 482h1v1h-1zM29 483h1v1h-1zM30 484h1v1h-1zM31 485h1v1h-1zM32 486h1v1h-1zM33 487h2v1h-2zM35 488h1v1h-1zM36 489h1v1h-1zM37 490h1v1h-1zM38 491h1v1h-1zM39 492h2v1h-2zM41 493h1v1h-1zM42 494h1v1h-1zM43 495h2v1h-2zM45 496h1v1h-1zM46 497h2v1h-2zM48 498h10v1h-10zM58 497h2v1h-2zM60 496h2v1h-2zM62 495h2v1h-2zM64 494h1v1h-1zM65 493h1v1h-1zM66 492h1v1h-1zM67 490h1v2h-1zM68 489h1v1h-1zM69 488h1v1h-1zM70 487h1v1h-1zM71 486h1v1h-1zM72 485h1v1h-1zM73 483h1v2h-1zM74 482h2v1h-2zM76 481h3v1h-3zM79 480h9v1h-9zM88 481h2v1h-2zM90 482h2v1h-2zM92 483h2v1h-2zM94 484h2v1h-2zM96 485h1v1h-1zM97 486h1v1h-1zM98 487h1v1h-1zM99 488h1v1h-1zM100 489h1v1h-1zM101 490h1v1h-1zM102 491h1v1h-1zM103 492h1v1h-1zM104 493h1v1h-1zM105 494h1v1h-1zM106 495h1v1h-1zM107 496h1v1h-1zM108 497h1v1h-1zM109 498h1v1h-1zM110 499h1v1h-1zM111 500h1v1h-1zM112 501h2v1h-2zM114 502h2v1h-2zM116 503h3v1h-3zM119 504h16v1h-16zM135 503h2v1h-2zM137 502h1v1h-1zM138 501h2v1h-2zM140 500h2v1h-2zM142 499h1v1h-1zM143 498h1v1h-1zM144 497h2v1h-2zM146 496h1v1h-1zM147 495h1v1h-1zM148 494h1v1h-1zM149 493h1v1h-1zM150 491h1v2h-1zM151 490h1v1h-1zM152 489h1v1h-1zM153 488h1v1h-1zM154 486h1v2h-1zM155 485h1v1h-1zM156 484h1v1h-1zM157 483h2v1h-2zM159 482h1v1h-1zM160 481h1v1h-1zM161 480h1v1h-1zM162 478h1v2h-1zM163 477h1v1h-1zM164 476h1v1h-1zM165 475h1v1h-1zM166 474h1v1h-1zM167 473h1v1h-1zM168 472h1v1h-1zM169 471h3v1h-3zM172 470h13v1h-13zM185 471h3v1h-3zM188 472h1v1h-1zM189 473h2v1h-2zM191 474h1v1h-1zM192 475h1v1h-1zM193 476h1v1h-1zM194 477h1v1h-1zM195 478h1v1h-1zM196 479h1v1h-1zM197 480h1v2h-1zM198 482h1v1h-1zM199 483h1v1h-1zM200 484h1v2h-1zM201 486h1v1h-1zM202 487h1v2h-1zM203 489h1v1h-1zM204 490h1v2h-1zM205 492h1v1h-1zM206 493h1v2h-1zM207 495h1v1h-1zM208 496h1v2h-1zM209 498h1v2h-1zM210 500h1v1h-1zM211 501h1v1h-1zM212 502h1v2h-1zM213 504h1v1h-1zM214 505h1v2h-1zM215 507h1v1h-1zM216 508h1v1h-1zM217 509h1v2h-1zM218 511h1v1h-1zM219 512h1v1h-1zM220 513h1v1h-1zM221 514h1v1h-1zM222 515h1v2h-1zM223 517h1v1h-1zM224 518h8v1h-8zM232 517h1v1h-1zM233 516h1v1h-1zM234 515h2v1h-2zM236 514h1v1h-1zM237 513h1v1h-1zM238 512h1v1h-1zM239 511h2v1h-2zM241 510h1v1h-1zM242 509h1v1h-1zM243 508h1v1h-1zM244 507h1v1h-1zM245 506h1v1h-1zM246 505h2v1h-2zM248 504h1v1h-1zM249 503h1v1h-1zM250 502h2v1h-2zM252 501h1v1h-1zM253 500h1v1h-1zM254 499h2v1h-2zM256 498h2v1h-2zM258 497h2v1h-2zM260 496h2v1h-2zM262 495h2v1h-2zM264 494h3v1h-3zM267 495h20v1h-20zM287 494h4v1h-4zM291 493h1v1h-1zM292 492h2v1h-2zM294 491h1v1h-1zM295 490h2v1h-2zM297 489h1v1h-1zM298 488h1v1h-1zM299 487h1v1h-1zM300 486h1v1h-1zM301 484h1v2h-1zM302 483h1v1h-1zM303 482h1v1h-1zM304 480h1v2h-1zM305 479h1v1h-1zM306 477h1v2h-1zM307 475h1v2h-1zM308 472h1v3h-1zM309 470h1v2h-1zM310 468h1v2h-1zM311 465h1v3h-1zM312 463h1v2h-1zM313 460h1v3h-1zM314 457h1v3h-1zM315 454h1v3h-1zM316 451h1v3h-1zM317 449h1v2h-1zM318 446h1v3h-1zM319 443h1v3h-1zM320 440h1v3h-1zM321 438h1v2h-1zM322 435h1v3h-1zM323 432h1v3h-1zM324 430h1v2h-1zM325 427h1v3h-1zM326 425h1v2h-1zM327 423h1v2h-1zM328 420h1v3h-1zM329 418h1v2h-1zM330 416h1v2h-1zM331 414h1v2h-1zM332 412h1v2h-1zM333 410h1v2h-1zM334 409h1v1h-1zM335 407h1v2h-1zM336 406h1v1h-1zM337 404h1v2h-1zM338 403h1v1h-1zM339 402h1v1h-1zM340 401h1v1h-1zM341 400h1v1h-1zM342 399h2v1h-2zM344 398h3v1h-3zM347 399h1v1h-1zM348 400h1v1h-1zM349 401h1v1h-1zM350 402h1v1h-1zM351 403h1v1h-1zM352 404h1v1h-1zM353 405h1v1h-1zM354 406h1v2h-1zM355 408h1v1h-1zM356 409h1v2h-1zM357 411h1v1h-1zM358 412h1v2h-1zM359 414h1v1h-1zM360 415h1v2h-1zM361 417h1v1h-1zM362 418h1v2h-1zM363 420h1v1h-1zM364 421h1v2h-1zM365 423h1v1h-1zM366 424h1v2h-1zM367 426h1v1h-1zM368 427h1v1h-1zM369 428h1v2h-1zM370 430h1v1h-1zM371 431h1v1h-1zM372 432h1v1h-1zM373 433h2v1h-2zM375 434h1v1h-1zM376 435h2v1h-2zM378 436h9v1h-9zM387 437h5v1h-5zM392 438h3v1h-3zM395 439h3v1h-3zM398 440h3v1h-3zM401 441h1v1h-1zM402 442h1v1h-1zM403 443h2v1h-2zM405 444h1v1h-1zM406 445h2v1h-2zM408 446h1v1h-1zM409 447h2v1h-2zM411 448h2v1h-2zM413 449h1v1h-1zM414 450h2v1h-2zM416 451h2v1h-2zM418 452h2v1h-2zM420 453h2v1h-2zM422 454h12v1h-12zM434 453h1v1h-1zM435 452h2v1h-2zM437 451h2v1h-2zM439 450h1v1h-1zM440 449h2v1h-2zM442 448h1v1h-1zM443 447h2v1h-2zM445 446h1v1h-1zM446 445h2v1h-2zM448 444h1v1h-1zM449 443h1v1h-1zM450 442h1v1h-1zM451 441h1v1h-1zM452 440h1v1h-1zM453 439h1v1h-1zM454 438h1v1h-1zM455 437h1v1h-1zM456 436h1v1h-1zM457 435h1v1h-1zM458 434h1v1h-1zM459 433h2v1h-2zM461 432h1v1h-1zM462 431h1v1h-1zM463 430h1v1h-1zM464 429h1v1h-1zM465 428h1v1h-1zM466 427h1v1h-1zM467 426h1v1h-1zM468 425h1v1h-1zM469 424h1v1h-1zM470 423h2v1h-2zM472 422h1v1h-1zM473 421h1v1h-1zM474 420h1v1h-1zM475 419h1v1h-1zM476 418h1v1h-1zM477 417h3v1h-3zM480 416h14v1h-14zM494 417h2v1h-2zM496 418h1v1h-1zM497 419h2v1h-2zM499 420h1v1h-1zM500 421h2v1h-2zM502 422h1v1h-1zM503 423h2v1h-2zM505 424h1v1h-1zM506 425h1v1h-1zM507 426h2v1h-2zM509 427h1v1h-1zM510 428h1v1h-1zM511 429h2v1h-2zM513 430h2v1h-2zM515 431h2v1h-2zM517 432h1v1h-1zM518 433h2v1h-2zM520 434h8v1h-8zM528 433h3v1h-3zM531 432h3v1h-3zM534 431h3v1h-3zM537 430h1v1h-1zM538 429h2v1h-2zM540 428h1v1h-1zM541 427h2v1h-2zM543 426h2v1h-2zM545 425h1v1h-1zM546 424h1v1h-1zM547 423h1v1h-1zM548 422h1v1h-1zM549 421h1v1h-1zM550 420h1v1h-1zM551 419h1v1h-1zM552 418h1v1h-1zM553 417h1v1h-1zM554 416h1v1h-1zM555 415h1v1h-1zM556 414h1v1h-1zM557 413h1v1h-1zM558 412h1v1h-1zM559 411h1v1h-1zM560 410h1v1h-1zM561 409h1v1h-1zM562 408h1v1h-1zM563 407h1v1h-1zM564 406h2v1h-2zM566 405h1v1h-1zM567 404h2v1h-2zM569 403h2v1h-2zM571 402h1v1h-1zM572 401h2v1h-2zM574 400h1v1h-1zM575 399h2v1h-2zM577 398h2v1h-2zM579 397h1v1h-1zM580 396h2v1h-2zM582 395h1v1h-1zM583 394h1v1h-1zM584 393h1v1h-1zM585 392h1v1h-1zM586 391h1v1h-1zM587 390h1v1h-1zM588 389h1v1h-1zM589 388h1v1h-1zM590 387h1v1h-1zM591 386h2v1h-2zM593 385h1v1h-1zM594 384h2v1h-2z" fill="#ff0000" stroke="#ff0000" stroke-width="1" stroke-linejoin="miter" transform="translate(-0.5,-0.5)"/></g>
<polyline points="3.5,621.8 7.5,629.0 11.5,634.4 15.5,640.6 19.5,643.1 23.5,651.3 27.5,667.5 31.5,682.1 35.5,684.5 39.5,676.0 43.5,668.6 47.5,662.0 51.5,652.1 55.5,630.0 59.5,600.5 63.5,577.0 67.5,565.0 71.5,568.8 75.5,587.5 79.5,618.2 83.5,655.1 87.5,678.8 91.5,686.4 95.5,677.0 99.5,663.5 103.5,654.7 107.5,655.5 111.5,665.2 115.5,677.2 119.5,684.5 123.5,681.9 127.5,670.4 131.5,647.1 135.5,614.6 139.5,581.3 143.5,562.8 147.5,559.4 151.5,565.0 155.5,566.4 159.5,566.3 163.5,565.0 167.5,571.7 171.5,590.3 175.5,620.2 179.5,656.5 183.5,678.4 187.5,685.4 191.5,679.0 195.5,675.0 199.5,675.2 203.5,675.0 207.5,676.6 211.5,675.4 215.5,672.0 219.5,660.4 223.5,642.5 227.5,618.9 231.5,602.5 235.5,590.2 239.5,588.3 243.5,593.5 247.5,611.0 251.5,632.1 255.5,643.3 259.5,642.0 263.5,635.6 267.5,638.8 271.5,653.6 275.5,669.0 279.5,672.2 283.5,661.5 287.5,653.0 291.5,636.3 295.5,617.9 299.5,588.3 303.5,572.0 307.5,562.0 311.5,558.2 315.5,553.6 319.5,551.2 323.5,551.2 327.5,554.0 331.5,557.9 335.5,565.8 339.5,581.4 343.5,606.8 347.5,637.9 351.5,668.3 355.5,683.1 359.5,682.3 363.5,664.0 367.5,643.3 371.5,625.0 375.5,614.0 379.5,612.2 383.5,612.0 387.5,615.5 391.5,616.4 395.5,624.4 399.5,630.8 403.5,638.7 407.5,644.3 411.5,650.5 415.5,651.3 419.5,638.3 423.5,621.4 427.5,603.0 431.5,592.9 435.5,586.4 439.5,585.6 443.5,588.8 447.5,589.7 451.5,589.1 455.5,587.6 459.5,583.6 463.5,576.7 467.5,563.6 471.5,556.0 475.5,554.8 479.5,569.6 483.5,590.7 487.5,616.0 491.5,629.2 495.5,633.2 499.5,627.0 503.5,620.2 507.5,609.0 511.5,598.3 515.5,589.9 519.5,590.1 523.5,592.2 527.5,588.7 531.5,576.7 535.5,567.1 539.5,563.0 543.5,564.0 547.5,559.2 551.5,558.2 555.5,560.1 559.5,567.2 563.5,569.6 567.5,569.4 571.5,568.1 575.5,567.9 579.5,563.0 583.5,556.6 587.5,551.5 591.5,554.7 595.5,563.1" fill="none" stroke="#ff0000" stroke-width="1" stroke-dasharray="3 3" shape-rendering="crispEdges"/>
<g shape-rendering="crispEdges"><path d="M3 621h1v2h-1zM4 623h1v3h-1zM5 626h1v4h-1zM6 630h1v4h-1zM7 634h1v2h-1zM8 636h1v3h-1zM9 639h1v2h-1zM10 641h1v2h-1zM11 643h1v2h-1zM12 643h1v1h-1zM13 642h1v1h-1zM14 641h1v1h-1zM15 639h1v2h-1zM16 640h1v1h-1zM17 641h1v1h-1zM18 642h1v1h-1zM19 643h1v3h-1zM20 646h1v7h-1zM21 653h1v6h-1zM22 659h1v7h-1zM23 666h1v6h-1zM24 672h1v4h-1zM25 676h1v5h-1zM26 681h1v5h-1zM27 686h1v3h-1zM28 688h1v1h-1zM29 687h2v1h-2zM31 686h1v2h-1zM32 683h1v3h-1zM33 680h1v3h-1zM34 678h1v2h-1zM35 675h1v3h-1zM36 672h1v3h-1zM37 668h1v4h-1zM38 665h1v3h-1zM39 663h1v2h-1zM40 663h2v1h-2zM42 664h2v1h-2zM44 662h1v2h-1zM45 660h1v2h-1zM46 658h1v2h-1zM47 654h1v4h-1zM48 648h1v6h-1zM49 642h1v6h-1zM50 637h1v5h-1zM51 629h1v8h-1zM52 620h1v9h-1zM53 612h1v8h-1zM54 603h1v9h-1zM55 595h1v8h-1zM56 588h1v7h-1zM57 580h1v8h-1zM58 572h1v8h-1zM59 568h1v4h-1zM60 566h1v2h-1zM61 565h1v1h-1zM62 564h1v1h-1zM63 562h1v2h-1zM64 562h3v1h-3zM67 562h1v2h-1zM68 564h1v5h-1zM69 569h1v4h-1zM70 573h1v4h-1zM71 577h1v7h-1zM72 584h1v10h-1zM73 594h1v10h-1zM74 604h1v10h-1zM75 614h1v9h-1zM76 623h1v9h-1zM77 632h1v9h-1zM78 641h1v9h-1zM79 650h1v9h-1zM80 659h1v9h-1zM81 668h1v9h-1zM82 677h1v9h-1zM83 686h1v5h-1zM84 690h3v1h-3zM87 689h1v2h-1zM88 685h1v4h-1zM89 682h1v3h-1zM90 679h1v3h-1zM91 676h1v3h-1zM92 672h1v4h-1zM93 668h1v4h-1zM94 664h1v4h-1zM95 660h1v4h-1zM96 657h1v3h-1zM97 654h1v3h-1zM98 651h1v3h-1zM99 649h1v2h-1zM100 649h1v1h-1zM101 650h2v1h-2zM103 651h1v2h-1zM104 653h1v3h-1zM105 656h1v3h-1zM106 659h1v4h-1zM107 663h1v3h-1zM108 666h1v3h-1zM109 669h1v4h-1zM110 673h1v4h-1zM111 677h1v2h-1zM112 679h1v2h-1zM113 681h1v2h-1zM114 683h1v3h-1zM115 686h1v2h-1zM116 686h3v1h-3zM119 685h1v2h-1zM120 681h1v4h-1zM121 677h1v4h-1zM122 673h1v4h-1zM123 669h1v4h-1zM124 664h1v5h-1zM125 660h1v4h-1zM126 655h1v5h-1zM127 648h1v7h-1zM128 639h1v9h-1zM129 630h1v9h-1zM130 621h1v9h-1zM131 611h1v10h-1zM132 601h1v10h-1zM133 590h1v11h-1zM134 579h1v11h-1zM135 571h1v8h-1zM136 566h1v5h-1zM137 560h1v6h-1zM138 555h1v5h-1zM139 552h1v3h-1zM140 553h1v2h-1zM141 555h1v2h-1zM142 557h1v3h-1zM143 560h1v2h-1zM144 561h1v1h-1zM145 562h2v1h-2zM147 563h1v1h-1zM148 564h1v1h-1zM149 565h1v2h-1zM150 567h1v1h-1zM151 568h1v2h-1zM152 568h1v1h-1zM153 567h1v1h-1zM154 566h1v1h-1zM155 565h1v1h-1zM156 564h2v1h-2zM158 563h3v1h-3zM161 564h2v1h-2zM163 565h1v3h-1zM164 568h1v5h-1zM165 573h1v5h-1zM166 578h1v5h-1zM167 583h1v6h-1zM168 589h1v9h-1zM169 598h1v8h-1zM170 606h1v8h-1zM171 614h1v9h-1zM172 623h1v9h-1zM173 632h1v9h-1zM174 641h1v9h-1zM175 650h1v9h-1zM176 659h1v10h-1zM177 669h1v10h-1zM178 679h1v10h-1zM179 689h1v6h-1zM180 691h1v2h-1zM181 689h1v2h-1zM182 686h1v3h-1zM183 684h1v2h-1zM184 682h1v2h-1zM185 680h1v2h-1zM186 677h1v3h-1zM187 675h1v2h-1zM188 675h4v1h-4zM192 674h1v1h-1zM193 673h2v1h-2zM195 672h1v1h-1zM196 673h1v1h-1zM197 674h1v1h-1zM198 675h1v1h-1zM199 676h1v1h-1zM200 675h2v1h-2zM202 674h2v1h-2zM204 675h2v1h-2zM206 676h1v1h-1zM207 677h1v1h-1zM208 676h1v1h-1zM209 675h1v1h-1zM210 673h1v2h-1zM211 672h1v1h-1zM212 670h1v2h-1zM213 668h1v2h-1zM214 666h1v2h-1zM215 662h1v4h-1zM216 656h1v6h-1zM217 651h1v5h-1zM218 646h1v5h-1zM219 640h1v6h-1zM220 634h1v6h-1zM221 628h1v6h-1zM222 622h1v6h-1zM223 616h1v6h-1zM224 610h1v6h-1zM225 603h1v7h-1zM226 597h1v6h-1zM227 593h1v4h-1zM228 593h3v1h-3zM231 592h1v2h-1zM232 589h1v3h-1zM233 586h1v3h-1zM234 583h1v3h-1zM235 581h1v2h-1zM236 582h1v2h-1zM237 584h1v1h-1zM238 585h1v2h-1zM239 587h1v3h-1zM240 590h1v6h-1zM241 596h1v5h-1zM242 601h1v5h-1zM243 606h1v6h-1zM244 612h1v6h-1zM245 618h1v7h-1zM246 625h1v6h-1zM247 631h1v5h-1zM248 636h1v4h-1zM249 640h1v5h-1zM250 645h1v4h-1zM251 649h1v3h-1zM252 649h1v2h-1zM253 646h1v3h-1zM254 644h1v2h-1zM255 641h1v3h-1zM256 638h1v3h-1zM257 635h1v3h-1zM258 632h1v3h-1zM259 630h1v2h-1zM260 630h1v1h-1zM261 631h2v1h-2zM263 632h1v3h-1zM264 635h1v5h-1zM265 640h1v5h-1zM266 645h1v5h-1zM267 650h1v5h-1zM268 655h1v6h-1zM269 661h1v5h-1zM270 666h1v6h-1zM271 672h1v4h-1zM272 675h1v1h-1zM273 676h1v1h-1zM274 677h1v1h-1zM275 677h1v2h-1zM276 673h1v4h-1zM277 668h1v5h-1zM278 664h1v4h-1zM279 660h1v4h-1zM280 655h1v5h-1zM281 650h1v5h-1zM282 645h1v5h-1zM283 642h1v3h-1zM284 644h1v2h-1zM285 646h1v3h-1zM286 649h1v2h-1zM287 648h1v5h-1zM288 638h1v10h-1zM289 627h1v11h-1zM290 617h1v10h-1zM291 609h1v8h-1zM292 603h1v6h-1zM293 597h1v6h-1zM294 591h1v6h-1zM295 585h1v6h-1zM296 579h1v6h-1zM297 573h1v6h-1zM298 567h1v6h-1zM299 563h1v4h-1zM300 563h3v1h-3zM303 562h1v1h-1zM304 561h1v1h-1zM305 560h1v1h-1zM306 559h1v1h-1zM307 557h1v2h-1zM308 556h1v1h-1zM309 555h1v1h-1zM310 553h1v2h-1zM311 552h1v1h-1zM312 551h1v1h-1zM313 550h1v1h-1zM314 549h4v1h-4zM318 550h2v1h-2zM320 551h2v1h-2zM322 552h2v1h-2zM324 553h1v1h-1zM325 554h1v1h-1zM326 555h1v2h-1zM327 557h1v1h-1zM328 558h1v1h-1zM329 559h1v1h-1zM330 560h1v2h-1zM331 562h1v2h-1zM332 564h1v4h-1zM333 568h1v3h-1zM334 571h1v3h-1zM335 574h1v5h-1zM336 579h1v7h-1zM337 586h1v7h-1zM338 593h1v7h-1zM339 600h1v8h-1zM340 608h1v9h-1zM341 617h1v9h-1zM342 626h1v9h-1zM343 635h1v8h-1zM344 643h1v7h-1zM345 650h1v8h-1zM346 658h1v7h-1zM347 665h1v7h-1zM348 672h1v7h-1zM349 679h1v6h-1zM350 685h1v7h-1zM351 692h1v4h-1zM352 691h1v3h-1zM353 688h1v3h-1zM354 685h1v3h-1zM355 682h1v3h-1zM356 678h1v4h-1zM357 673h1v5h-1zM358 669h1v4h-1zM359 664h1v5h-1zM360 657h1v7h-1zM361 650h1v7h-1zM362 644h1v6h-1zM363 638h1v6h-1zM364 633h1v5h-1zM365 629h1v4h-1zM366 624h1v5h-1zM367 620h1v4h-1zM368 618h1v2h-1zM369 616h1v2h-1zM370 613h1v3h-1zM371 611h1v2h-1zM372 610h1v1h-1zM373 609h1v1h-1zM374 608h1v1h-1zM375 607h1v1h-1zM376 608h1v2h-1zM377 610h1v2h-1zM378 612h1v3h-1zM379 615h1v2h-1zM380 614h1v2h-1zM381 613h1v1h-1zM382 612h1v1h-1zM383 611h1v1h-1zM384 612h1v1h-1zM385 613h1v2h-1zM386 615h1v2h-1zM387 617h1v1h-1zM388 618h3v1h-3zM391 618h1v2h-1zM392 620h1v5h-1zM393 625h1v4h-1zM394 629h1v4h-1zM395 633h1v3h-1zM396 635h2v1h-2zM398 636h2v1h-2zM400 637h1v2h-1zM401 639h1v1h-1zM402 640h1v2h-1zM403 642h1v2h-1zM404 644h1v2h-1zM405 646h1v2h-1zM406 648h1v2h-1zM407 650h1v2h-1zM408 652h1v1h-1zM409 653h1v1h-1zM410 654h1v1h-1zM411 654h1v2h-1zM412 652h1v2h-1zM413 649h1v3h-1zM414 647h1v2h-1zM415 642h1v5h-1zM416 634h1v8h-1zM417 625h1v9h-1zM418 617h1v8h-1zM419 612h1v5h-1zM420 610h1v2h-1zM421 608h1v2h-1zM422 606h1v2h-1zM423 603h1v3h-1zM424 599h1v4h-1zM425 596h1v3h-1zM426 592h1v4h-1zM427 590h1v2h-1zM428 588h1v2h-1zM429 586h1v2h-1zM430 584h1v2h-1zM431 582h1v2h-1zM432 583h2v1h-2zM434 584h1v1h-1zM435 585h2v1h-2zM437 586h1v1h-1zM438 587h2v1h-2zM440 588h1v1h-1zM441 589h1v1h-1zM442 590h1v2h-1zM443 592h1v1h-1zM444 591h1v1h-1zM445 589h1v2h-1zM446 588h1v1h-1zM447 587h2v1h-2zM449 586h2v1h-2zM451 585h1v1h-1zM452 586h2v1h-2zM454 587h1v1h-1zM455 586h1v2h-1zM456 583h1v3h-1zM457 580h1v3h-1zM458 577h1v3h-1zM459 575h1v2h-1zM460 572h1v3h-1zM461 569h1v3h-1zM462 567h1v2h-1zM463 563h1v4h-1zM464 559h1v4h-1zM465 555h1v4h-1zM466 551h1v4h-1zM467 548h1v3h-1zM468 549h1v1h-1zM469 550h1v1h-1zM470 551h1v1h-1zM471 552h1v2h-1zM472 554h1v2h-1zM473 556h1v2h-1zM474 558h1v2h-1zM475 560h1v5h-1zM476 565h1v8h-1zM477 573h1v8h-1zM478 581h1v7h-1zM479 588h1v7h-1zM480 595h1v6h-1zM481 601h1v6h-1zM482 607h1v6h-1zM483 613h1v6h-1zM484 619h1v5h-1zM485 624h1v6h-1zM486 630h1v5h-1zM487 635h1v3h-1zM488 636h1v1h-1zM489 634h1v2h-1zM490 633h1v1h-1zM491 632h1v1h-1zM492 631h1v1h-1zM493 630h1v1h-1zM494 629h1v1h-1zM495 628h1v1h-1zM496 625h1v3h-1zM497 623h1v2h-1zM498 620h1v3h-1zM499 618h1v2h-1zM500 617h1v1h-1zM501 615h1v2h-1zM502 613h1v2h-1zM503 610h1v3h-1zM504 606h1v4h-1zM505 602h1v4h-1zM506 598h1v4h-1zM507 594h1v4h-1zM508 592h1v2h-1zM509 590h1v2h-1zM510 588h1v2h-1zM511 586h1v2h-1zM512 586h4v1h-4zM516 587h1v3h-1zM517 590h1v2h-1zM518 592h1v2h-1zM519 594h1v2h-1zM520 594h2v1h-2zM522 593h1v1h-1zM523 591h1v3h-1zM524 587h1v4h-1zM525 583h1v4h-1zM526 578h1v5h-1zM527 574h1v4h-1zM528 570h1v4h-1zM529 566h1v4h-1zM530 562h1v4h-1zM531 559h1v3h-1zM532 560h1v1h-1zM533 561h1v2h-1zM534 563h1v1h-1zM535 564h2v1h-2zM537 563h5v1h-5zM542 562h1v1h-1zM543 561h1v2h-1zM544 558h1v3h-1zM545 555h1v3h-1zM546 552h1v3h-1zM547 550h1v2h-1zM548 551h1v3h-1zM549 554h1v2h-1zM550 556h1v3h-1zM551 559h1v2h-1zM552 561h1v2h-1zM553 563h1v2h-1zM554 565h1v2h-1zM555 567h1v2h-1zM556 569h2v1h-2zM558 570h1v1h-1zM559 571h1v1h-1zM560 570h1v1h-1zM561 569h1v1h-1zM562 568h1v1h-1zM563 567h11v1h-11zM574 566h1v1h-1zM575 565h1v2h-1zM576 562h1v3h-1zM577 558h1v4h-1zM578 555h1v3h-1zM579 553h1v2h-1zM580 551h1v2h-1zM581 550h1v1h-1zM582 549h1v1h-1zM583 548h1v1h-1zM584 549h2v1h-2zM586 550h1v1h-1zM587 551h1v2h-1zM588 553h1v3h-1zM589 556h1v2h-1zM590 558h1v3h-1zM591 561h1v3h-1zM592 564h1v3h-1zM593 567h1v2h-1zM594 569h1v3h-1zM595 572h1v2h-1z" fill="#20b2aa"/></g>
<g shape-rendering="crispEdges">
<rect x="670" y="0" width="42" height="732" fill="#fff"/>
<rect x="0" y="714" width="712" height="18" fill="#fff"/>
<g fill="#000">
<rect x="2" y="2" width="1" height="712"/>
<rect x="669" y="2" width="1" height="712"/>
<rect x="2" y="2" width="668" height="1"/>
<rect x="2" y="357" width="668" height="1"/>
<rect x="2" y="359" width="668" height="1"/>
<rect x="2" y="536" width="668" height="1"/>
<rect x="2" y="538" width="668" height="1"/>
<rect x="2" y="713" width="668" height="1"/>
<rect x="2" y="358" width="1" height="1" fill="#fff"/><rect x="669" y="358" width="1" height="1" fill="#fff"/>
<rect x="2" y="537" width="1" height="1" fill="#fff"/><rect x="669" y="537" width="1" height="1" fill="#fff"/>
<rect x="670" y="57" width="2" height="1"/>
<rect x="670" y="90" width="2" height="1"/>
<rect x="670" y="123" width="2" height="1"/>
<rect x="670" y="156" width="2" height="1"/>
<rect x="670" y="189" width="2" height="1"/>
<rect x="670" y="222" width="2" height="1"/>
<rect x="670" y="255" width="2" height="1"/>
<rect x="670" y="288" width="2" height="1"/>
<rect x="670" y="321" width="2" height="1"/>
<rect x="670" y="354" width="2" height="1"/>
<rect x="670" y="24" width="1" height="1"/>
<rect x="670" y="361" width="1" height="1"/>
<rect x="670" y="474" width="1" height="1"/>
<rect x="670" y="535" width="1" height="1"/>
<rect x="670" y="540" width="1" height="1"/>
<rect x="670" y="713" width="1" height="1"/>
<rect x="3" y="714" width="1" height="4"/>
<rect x="67" y="714" width="1" height="4"/>
<rect x="131" y="714" width="1" height="4"/>
<rect x="195" y="714" width="1" height="4"/>
<rect x="259" y="714" width="1" height="4"/>
<rect x="323" y="714" width="1" height="4"/>
<rect x="387" y="714" width="1" height="4"/>
<rect x="451" y="714" width="1" height="4"/>
<rect x="515" y="714" width="1" height="4"/>
<rect x="579" y="714" width="1" height="4"/>
</g></g>
<path d="M6 9h7l-3.5 4z" fill="#000" shape-rendering="crispEdges"/>
<text x="18" y="14" class="t" textLength="56.5" lengthAdjust="spacingAndGlyphs">USDCAD,H4</text>
<text x="80.0" y="14" class="t" textLength="33" lengthAdjust="spacingAndGlyphs">1.16389</text>
<text x="116.2" y="14" class="t" textLength="33" lengthAdjust="spacingAndGlyphs">1.16399</text>
<text x="152.4" y="14" class="t" textLength="33" lengthAdjust="spacingAndGlyphs">1.16322</text>
<text x="188.60000000000002" y="14" class="t" textLength="33" lengthAdjust="spacingAndGlyphs">1.16361</text>
<text x="7.5" y="372" class="t" textLength="66" lengthAdjust="spacingAndGlyphs">MACD(12,26,9)</text>
<text x="75.8" y="372" class="t" textLength="39" lengthAdjust="spacingAndGlyphs">0.004639</text>
<text x="116.7" y="372" class="t" textLength="39" lengthAdjust="spacingAndGlyphs">0.004045</text>
<text x="7.2" y="551" class="t" textLength="55.5" lengthAdjust="spacingAndGlyphs">Stoch(13,3,3)</text>
<text x="64.8" y="551" class="t" textLength="33" lengthAdjust="spacingAndGlyphs">80.0170</text>
<text x="100.8" y="551" class="t" textLength="33.5" lengthAdjust="spacingAndGlyphs">86.5935</text>
<text x="7.5" y="710" class="t" textLength="230" lengthAdjust="spacingAndGlyphs">FxPro MT4, © 2001-2014, MetaQuotes Software Corp.</text>
<text x="2.5" y="727" class="a" textLength="53.5" lengthAdjust="spacingAndGlyphs">11 Nov 2014</text>
<text x="66.5" y="727" class="a" textLength="56.5" lengthAdjust="spacingAndGlyphs">14 Nov 08:00</text>
<text x="130.5" y="727" class="a" textLength="56.5" lengthAdjust="spacingAndGlyphs">19 Nov 00:00</text>
<text x="194.5" y="727" class="a" textLength="56.5" lengthAdjust="spacingAndGlyphs">21 Nov 16:00</text>
<text x="258.5" y="727" class="a" textLength="56.5" lengthAdjust="spacingAndGlyphs">26 Nov 08:00</text>
<text x="322.5" y="727" class="a" textLength="50.5" lengthAdjust="spacingAndGlyphs">1 Dec 00:00</text>
<text x="386.5" y="727" class="a" textLength="50.5" lengthAdjust="spacingAndGlyphs">3 Dec 16:00</text>
<text x="450.5" y="727" class="a" textLength="50.5" lengthAdjust="spacingAndGlyphs">8 Dec 08:00</text>
<text x="514.5" y="727" class="a" textLength="54" lengthAdjust="spacingAndGlyphs">11 Dec 00:00</text>
<text x="578.5" y="727" class="a" textLength="54" lengthAdjust="spacingAndGlyphs">15 Dec 16:00</text>
<text x="675" y="60" class="a" textLength="33" lengthAdjust="spacingAndGlyphs">1.16180</text>
<text x="675" y="93" class="a" textLength="33" lengthAdjust="spacingAndGlyphs">1.15690</text>
<text x="675" y="126" class="a" textLength="33" lengthAdjust="spacingAndGlyphs">1.15210</text>
<text x="675" y="159" class="a" textLength="33" lengthAdjust="spacingAndGlyphs">1.14720</text>
<text x="675" y="192" class="a" textLength="33" lengthAdjust="spacingAndGlyphs">1.14240</text>
<text x="675" y="225" class="a" textLength="33" lengthAdjust="spacingAndGlyphs">1.13750</text>
<text x="675" y="258" class="a" textLength="33" lengthAdjust="spacingAndGlyphs">1.13260</text>
<text x="675" y="291" class="a" textLength="33" lengthAdjust="spacingAndGlyphs">1.12770</text>
<text x="675" y="324" class="a" textLength="33" lengthAdjust="spacingAndGlyphs">1.12290</text>
<text x="675" y="357" class="a" textLength="33" lengthAdjust="spacingAndGlyphs">1.11800</text>
<g shape-rendering="crispEdges">
<rect x="671" y="39" width="41" height="11" fill="#000"/>
<rect x="671" y="41" width="41" height="11" fill="#90ee90"/>
<rect x="671" y="67" width="41" height="11" fill="#90ee90"/>
<rect x="671" y="79" width="41" height="11" fill="#90ee90"/>
<rect x="671" y="96" width="41" height="11" fill="#90ee90"/>
<rect x="671" y="131" width="41" height="11" fill="#90ee90"/>
<rect x="671" y="167" width="41" height="11" fill="#90ee90"/>
<rect x="671" y="177" width="41" height="11" fill="#90ee90"/>
<rect x="671" y="203" width="41" height="11" fill="#90ee90"/>
<rect x="671" y="233" width="41" height="11" fill="#90ee90"/>
<rect x="671" y="250" width="41" height="11" fill="#90ee90"/>
<rect x="671" y="284" width="41" height="11" fill="#90ee90"/>
<rect x="671" y="318" width="41" height="11" fill="#90ee90"/>
<rect x="671" y="342" width="41" height="11" fill="#90ee90"/>
<rect x="671" y="16" width="41" height="11" fill="#008080"/>
</g>
<text x="675" y="50" class="a w" textLength="33" lengthAdjust="spacingAndGlyphs">1.16325</text>
<text x="675" y="76" class="a w" textLength="33" lengthAdjust="spacingAndGlyphs">1.15950</text>
<text x="675" y="88" class="a w" textLength="33" lengthAdjust="spacingAndGlyphs">1.15775</text>
<text x="675" y="105" class="a w" textLength="33" lengthAdjust="spacingAndGlyphs">1.15525</text>
<text x="675" y="140" class="a w" textLength="33" lengthAdjust="spacingAndGlyphs">1.15000</text>
<text x="675" y="176" class="a w" textLength="33" lengthAdjust="spacingAndGlyphs">1.14475</text>
<text x="675" y="186" class="a w" textLength="33" lengthAdjust="spacingAndGlyphs">1.14325</text>
<text x="675" y="212" class="a w" textLength="33" lengthAdjust="spacingAndGlyphs">1.13950</text>
<text x="675" y="242" class="a w" textLength="33" lengthAdjust="spacingAndGlyphs">1.13500</text>
<text x="675" y="259" class="a w" textLength="33" lengthAdjust="spacingAndGlyphs">1.13250</text>
<text x="675" y="293" class="a w" textLength="33" lengthAdjust="spacingAndGlyphs">1.12750</text>
<text x="675" y="327" class="a w" textLength="33" lengthAdjust="spacingAndGlyphs">1.12250</text>
<text x="675" y="351" class="a w" textLength="33" lengthAdjust="spacingAndGlyphs">1.11900</text>
<text x="675" y="25" class="a w" textLength="33" lengthAdjust="spacingAndGlyphs">1.16700</text>
<text x="672.5" y="370" class="a" textLength="37.5" lengthAdjust="spacingAndGlyphs">0.005051</text>
<text x="672.5" y="477" class="a" textLength="18.5" lengthAdjust="spacingAndGlyphs">0.00</text>
<text x="672.5" y="533" class="a" textLength="41" lengthAdjust="spacingAndGlyphs">-0.002768</text>
<text x="672.5" y="549" class="a" textLength="15.5" lengthAdjust="spacingAndGlyphs">100</text>
<text x="672.5" y="577" class="a" textLength="10.5" lengthAdjust="spacingAndGlyphs">80</text>
<text x="672.5" y="682" class="a" textLength="10.5" lengthAdjust="spacingAndGlyphs">20</text>
<text x="672.5" y="710.6" class="a">0</text>
</svg></body></html>
